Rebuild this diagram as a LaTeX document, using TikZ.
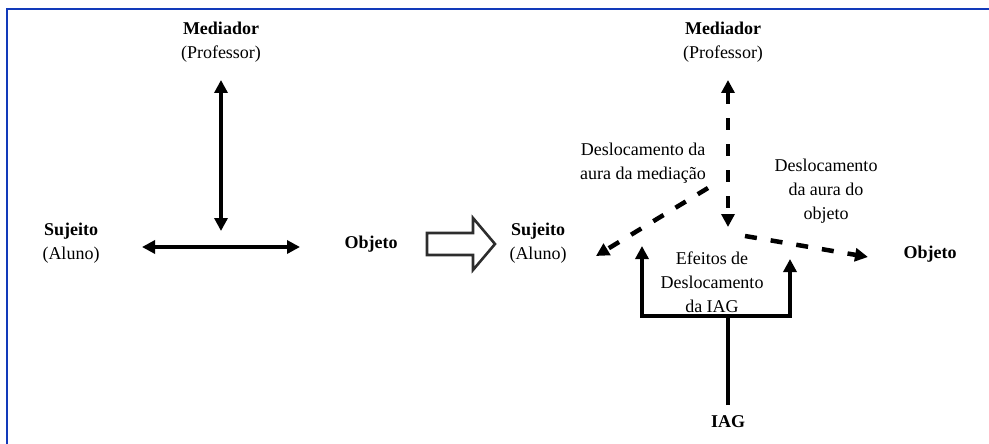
\documentclass[tikz,border=0pt]{standalone}
\usepackage{fontspec}
\setmainfont{Liberation Serif}
\usetikzlibrary{arrows.meta}

\definecolor{framebl}{RGB}{18,58,186}
\definecolor{blockgray}{RGB}{45,45,45}

\begin{document}
\begin{tikzpicture}[
    x=1pt, y=1pt,
    font=\fontsize{18}{24}\selectfont,
    lbl/.style={align=center, inner sep=0pt},
    tip/.style={>={Triangle[length=13pt,width=13pt]}},
    duo/.style={tip, <->, line width=4pt},
    dduo/.style={tip, <->, line width=4.5pt, dash pattern=on 12pt off 14pt},
    dray/.style={tip, ->, line width=4.5pt, dash pattern=on 12pt off 14pt},
    ray/.style={tip, ->, line width=4pt},
    frame/.style={draw=framebl, line width=2.8pt},
  ]
  \useasboundingbox (0,0) rectangle (989,-444);
  % blue frame, top and left only
  \draw[frame] (7,-444) -- (7,-9) -- (989,-9);

  % left triangle: mediador / sujeito / objeto
  \node[lbl] (med) at (221,-42) {\textbf{Mediador}\\(Professor)};
  \node[lbl] (suj) at (71,-243) {\textbf{Sujeito}\\(Aluno)};
  \node[lbl] (obj) at (371,-244) {\textbf{Objeto}};

  \coordinate (vtop) at (221,-80);
  \coordinate (vbot) at (221,-231);
  \coordinate (hl) at (142,-247);
  \coordinate (hr) at (300,-247);
  \draw[duo] (vtop) -- (vbot);
  \draw[duo] (hl) -- (hr);

  % big hollow arrow
  \draw[blockgray, line width=2.6pt, line join=miter]
    (427,-233) -- (473,-233) -- (473,-218) -- (495,-244) -- (473,-270)
    -- (473,-255) -- (427,-255) -- cycle;

  % right triangle: with IAG
  \node[lbl] (med2) at (723,-42) {\textbf{Mediador}\\(Professor)};
  \node[lbl] (suj2) at (538,-243) {\textbf{Sujeito}\\(Aluno)};
  \node[lbl] (obj2) at (930,-254) {\textbf{Objeto}};
  \node[lbl] (aura1) at (643,-163) {Deslocamento da\\aura da mediação};
  \node[lbl] (aura2) at (826,-191) {Deslocamento\\da aura do\\objeto};
  \node[lbl] (efe) at (712,-282) {Efeitos de\\Deslocamento\\da IAG};
  \node[lbl] (iag) at (728,-422) {\textbf{IAG}};

  \coordinate (dtop) at (728,-80);
  \coordinate (dbot) at (728,-227);
  \coordinate (ds1) at (708,-188);
  \coordinate (de1) at (596,-256);
  \coordinate (ds2) at (745,-236);
  \coordinate (de2) at (868,-257);
  \draw[dduo] (dtop) -- (dbot);
  \draw[dray] (ds1) -- (de1);
  \draw[dray] (ds2) -- (de2);

  % IAG fork
  \coordinate (stem) at (728,-405);
  \coordinate (fork) at (728,-316);
  \coordinate (upl) at (642,-246);
  \coordinate (upr) at (790,-259);
  \draw[line width=4pt] (stem) -- (fork);
  \draw[ray] (fork) -| (upl);
  \draw[ray] (fork) -| (upr);
\end{tikzpicture}
\end{document}
